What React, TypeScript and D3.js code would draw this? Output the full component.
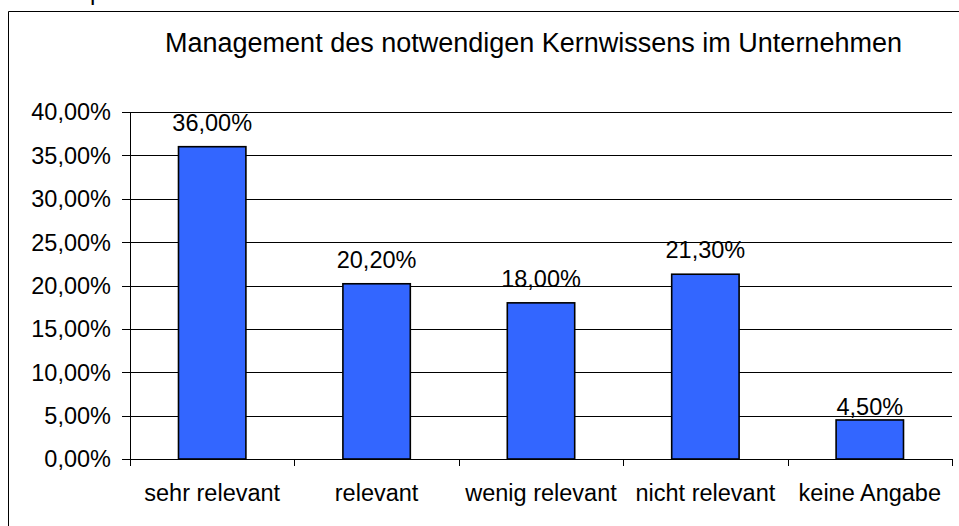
import React from "react";
import * as d3 from "d3";

const categories = ["sehr relevant", "relevant", "wenig relevant", "nicht relevant", "keine Angabe"];
const values = [36.0, 20.2, 18.0, 21.3, 4.5];
const yTicks = [0, 5, 10, 15, 20, 25, 30, 35, 40];
const title = "Management des notwendigen Kernwissens im Unternehmen";

const W = 959;
const H = 526;
const FONT = "'Liberation Sans', Arial, sans-serif";

const fmt = (v: number) => v.toFixed(2).replace(".", ",") + "%";

export default function App() {
  const left = 130;
  const right = 952;
  const top = 112;
  const bottom = 459;

  const x = d3
    .scaleBand<string>()
    .domain(categories)
    .range([left, right])
    .paddingInner(0.59)
    .paddingOuter(0.295);
  const step = (right - left) / categories.length;
  const y = d3.scaleLinear().domain([0, 40]).range([bottom, top]);

  return (
    <svg
      width={W}
      height={H}
      style={{ position: "absolute", left: 0, top: 0, background: "#fff" }}
      fontFamily={FONT}
    >
      <rect x={0} y={0} width={W} height={H} fill="#fff" />
      {/* clipped caption above the frame */}
      <text x={90} y={0} fontSize={24} fill="#000">p</text>
      {/* chart frame */}
      <line x1={8.5} y1={11.5} x2={W} y2={11.5} stroke="#000" strokeWidth={1} />
      <line x1={8.5} y1={11.5} x2={8.5} y2={H} stroke="#000" strokeWidth={1} />

      <text x={(165 + 902) / 2} y={52} fontSize={27} textAnchor="middle" fill="#000">
        {title}
      </text>

      {/* gridlines */}
      {yTicks.map((t) => (
        <g key={t}>
          {t > 0 && (
            <line x1={left} x2={right} y1={Math.round(y(t)) + 0.5} y2={Math.round(y(t)) + 0.5} stroke="#000" strokeWidth={1} />
          )}
          <line x1={122} x2={left} y1={Math.round(y(t)) + 0.5} y2={Math.round(y(t)) + 0.5} stroke="#000" strokeWidth={1} />
          <text x={111} y={y(t)} dy="0.36em" fontSize={23.5} textAnchor="end" fill="#000">
            {fmt(t)}
          </text>
        </g>
      ))}

      {/* bars */}
      {values.map((v, i) => (
        <rect
          key={i}
          x={x(categories[i])}
          y={y(v)}
          width={x.bandwidth()}
          height={bottom - y(v)}
          fill="#3366FF"
          stroke="#000"
          strokeWidth={1.6}
        />
      ))}

      {/* axes */}
      <line x1={left + 0.5} x2={left + 0.5} y1={top} y2={bottom} stroke="#000" strokeWidth={1} />
      <line x1={left} x2={right} y1={bottom + 0.5} y2={bottom + 0.5} stroke="#000" strokeWidth={1} />
      {d3.range(categories.length + 1).map((i) => (
        <line
          key={i}
          x1={Math.round(left + i * step) + 0.5}
          x2={Math.round(left + i * step) + 0.5}
          y1={bottom}
          y2={bottom + 7}
          stroke="#000"
          strokeWidth={1}
        />
      ))}

      {/* category labels */}
      {categories.map((c) => (
        <text key={c} x={x(c)! + x.bandwidth() / 2} y={501} fontSize={23.5} textAnchor="middle" fill="#000">
          {c}
        </text>
      ))}

      {/* value labels */}
      {values.map((v, i) => (
        <text
          key={i}
          x={x(categories[i])! + x.bandwidth() / 2}
          y={y(v) - (v < 10 ? 5 : 16)}
          fontSize={23.5}
          textAnchor="middle"
          fill="#000"
        >
          {fmt(v)}
        </text>
      ))}
    </svg>
  );
}
